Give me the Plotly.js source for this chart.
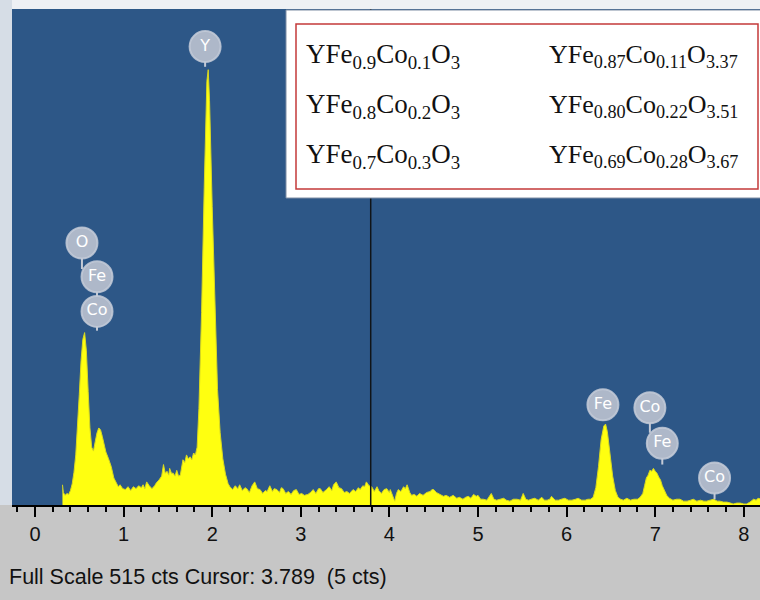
<!DOCTYPE html>
<html>
<head>
<meta charset="utf-8">
<script src="https://cdn.plot.ly/plotly-3.0.1.min.js"></script>
<style>html,body{margin:0;padding:0;background:#c6c6c6;}#chart{width:760px;height:600px;}</style>
</head>
<body>
<div id="chart"></div>
<script>
// Spectrum (energy in keV, counts)
const energy = [0.31,0.32,0.34,0.36,0.38,0.40,0.42,0.44,0.46,0.48,0.50,0.52,0.54,0.56,0.58,0.60,0.62,0.64,0.66,0.68,0.70,0.72,0.74,0.76,0.78,0.80,0.83,0.86,0.89,0.92,0.94,0.96,0.99,1.02,1.05,1.08,1.11,1.14,1.17,1.20,1.22,1.24,1.26,1.29,1.32,1.35,1.37,1.40,1.43,1.45,1.47,1.49,1.51,1.52,1.54,1.56,1.58,1.60,1.62,1.64,1.66,1.67,1.69,1.71,1.73,1.75,1.77,1.79,1.81,1.83,1.85,1.88,1.91,1.94,1.955,1.97,2.00,2.03,2.06,2.09,2.12,2.15,2.18,2.20,2.23,2.26,2.29,2.31,2.34,2.37,2.39,2.42,2.45,2.48,2.51,2.54,2.57,2.60,2.62,2.65,2.68,2.70,2.73,2.76,2.78,2.80,2.83,2.86,2.89,2.92,2.95,2.98,3.01,3.04,3.08,3.11,3.14,3.17,3.20,3.22,3.25,3.29,3.32,3.35,3.37,3.40,3.43,3.46,3.49,3.52,3.55,3.59,3.62,3.65,3.67,3.70,3.72,3.74,3.77,3.80,3.83,3.86,3.88,3.91,3.94,3.97,4.00,4.01,4.04,4.06,4.08,4.10,4.13,4.16,4.18,4.20,4.23,4.25,4.28,4.31,4.34,4.38,4.42,4.46,4.48,4.50,4.53,4.55,4.58,4.61,4.64,4.68,4.72,4.76,4.79,4.83,4.86,4.89,4.92,4.95,4.98,5.00,5.03,5.06,5.10,5.15,5.18,5.21,5.25,5.29,5.32,5.36,5.40,5.44,5.48,5.51,5.54,5.57,5.60,5.64,5.68,5.72,5.75,5.78,5.81,5.83,5.87,5.91,5.94,5.98,6.02,6.06,6.10,6.13,6.17,6.21,6.24,6.27,6.30,6.33,6.36,6.39,6.42,6.44,6.46,6.49,6.52,6.55,6.58,6.61,6.64,6.68,6.72,6.76,6.80,6.83,6.86,6.88,6.90,6.92,6.94,6.96,6.98,7.00,7.02,7.04,7.06,7.08,7.10,7.13,7.16,7.20,7.24,7.28,7.32,7.36,7.40,7.43,7.47,7.51,7.55,7.58,7.62,7.66,7.70,7.73,7.77,7.81,7.85,7.88,7.92,7.96,8.00,8.03,8.07,8.11,8.14,8.16,8.20];
const counts = [21,13,10,12,11,15,22,34,52,80,115,150,172,179,160,118,80,60,56,66,75,80,78,71,62,55,48,40,28,23,19,21,17,16,19,15,19,17,20,18,21,17,24,20,17,20,23,26,30,42,33,35,31,38,33,33,30,36,30,31,40,47,44,52,48,50,47,54,52,60,100,200,330,440,452,420,310,200,120,75,48,32,22,19,16,20,17,21,15,18,17,13,20,24,17,16,12,15,14,20,14,17,16,13,18,17,12,14,11,15,16,11,12,10,11,13,16,12,17,17,13,16,19,15,21,24,18,17,13,14,12,16,14,18,16,20,19,24,20,19,14,19,15,12,16,17,13,16,9,4,12,16,14,19,17,21,13,10,11,9,12,10,13,14,16,16,13,12,11,9,10,8,10,7,8,6,8,9,7,11,9,10,6,6,5,12,6,5,6,7,5,4,6,6,5,12,6,5,6,7,5,8,5,5,6,9,5,5,6,7,5,5,6,7,5,5,6,6,8,18,40,68,82,84,76,54,30,15,8,6,5,7,5,6,6,8,12,20,28,31,36,35,38,35,33,29,26,20,16,10,7,5,6,6,4,4,5,6,4,5,4,4,5,6,4,4,3,3,2,1,2,2,1,1,3,6,5,7,6];

// Element markers
const peakLabels = ['O','Fe','Co','Y','Fe','Co','Fe','Co'];
const labelEnergy = [0.53,0.70,0.70,1.92,6.41,6.94,7.08,7.67];
const labelCounts = [272,237,201,476,104,101,64,28];
const stemEndCounts = [245,201,181,455,88,75,42,6];

// Composition table
const nominal = ['YFe<sub>0.9</sub>Co<sub>0.1</sub>O<sub>3</sub>','YFe<sub>0.8</sub>Co<sub>0.2</sub>O<sub>3</sub>','YFe<sub>0.7</sub>Co<sub>0.3</sub>O<sub>3</sub>'];
const measured = ['YFe<sub>0.87</sub>Co<sub>0.11</sub>O<sub>3.37</sub>','YFe<sub>0.80</sub>Co<sub>0.22</sub>O<sub>3.51</sub>','YFe<sub>0.69</sub>Co<sub>0.28</sub>O<sub>3.67</sub>'];

const tickVals = [0,1,2,3,4,5,6,7,8];
const tickText = ['0','1','2','3','4','5','6','7','8'];
const fullScale = 515;
const cursorE = 3.789;
const statusText = 'Full Scale 515 cts Cursor: 3.789\u00a0 (5 cts)';

// Build
const W = 760, H = 600, mL = 12, mR = 0, mT = 9, mB = 95;
const pw = W - mL - mR, ph = H - mT - mB;
const px2paperX = p => (p - mL) / pw;
const py2paperY = p => (H - mB - p) / ph;

const stemX = [], stemY = [];
for (let i = 0; i < peakLabels.length; i++) {
  stemX.push(labelEnergy[i], labelEnergy[i], null);
  stemY.push(labelCounts[i], stemEndCounts[i], null);
}

const traces = [
  {x: energy, y: counts, type: 'scatter', mode: 'lines', fill: 'tozeroy',
   fillcolor: '#ffff10', line: {color: '#d8d820', width: 1}, hoverinfo: 'skip'},
  {x: stemX, y: stemY, type: 'scatter', mode: 'lines',
   line: {color: '#c4cad6', width: 2}, hoverinfo: 'skip'},
  {x: labelEnergy, y: labelCounts, type: 'scatter', mode: 'markers+text',
   text: peakLabels, textposition: 'middle center',
   textfont: {color: '#ffffff', size: 16, family: 'DejaVu Sans, sans-serif'},
   marker: {size: 31, color: '#aeb8c9', line: {color: 'rgba(196,203,216,0.85)', width: 2}},
   hoverinfo: 'skip'}
];

const annotations = [];
const rowsY = [60, 110, 160];
for (let i = 0; i < 3; i++) {
  annotations.push({xref: 'paper', yref: 'paper', x: px2paperX(304), y: py2paperY(rowsY[i] - 4),
    xanchor: 'left', yanchor: 'middle', showarrow: false, text: nominal[i],
    font: {family: 'Liberation Serif, Times New Roman, serif', size: 27, color: '#111'}});
  annotations.push({xref: 'paper', yref: 'paper', x: px2paperX(547), y: py2paperY(rowsY[i] - 4),
    xanchor: 'left', yanchor: 'middle', showarrow: false, text: measured[i],
    font: {family: 'Liberation Serif, Times New Roman, serif', size: 26, color: '#111'}});
}
annotations.push({xref: 'paper', yref: 'paper', x: px2paperX(7), y: py2paperY(577),
  xanchor: 'left', yanchor: 'middle', showarrow: false, text: statusText,
  font: {family: 'Liberation Sans, Arial, sans-serif', size: 21.5, color: '#111'}});

const shapes = [
  {type: 'rect', xref: 'paper', yref: 'paper', x0: px2paperX(0), x1: px2paperX(760), y0: py2paperY(9), y1: py2paperY(0),
   fillcolor: '#eef0f4', line: {width: 0}, layer: 'below'},
  {type: 'rect', xref: 'paper', yref: 'paper', x0: px2paperX(0), x1: px2paperX(12), y0: py2paperY(505), y1: py2paperY(0),
   fillcolor: '#d6dde6', line: {width: 0}, layer: 'below'},
  {type: 'line', xref: 'x', yref: 'paper', x0: cursorE, x1: cursorE, y0: 0, y1: 1,
   line: {color: '#101418', width: 1.5}},
  {type: 'rect', xref: 'paper', yref: 'paper', x0: px2paperX(286), x1: px2paperX(761), y0: py2paperY(198), y1: py2paperY(10),
   fillcolor: '#ffffff', line: {color: '#7f8ea4', width: 1}},
  {type: 'rect', xref: 'paper', yref: 'paper', x0: px2paperX(296), x1: px2paperX(758), y0: py2paperY(189), y1: py2paperY(24),
   fillcolor: 'rgba(0,0,0,0)', line: {color: '#c43a3a', width: 1.5}}
];

const layout = {
  width: W, height: H,
  margin: {l: mL, r: mR, t: mT, b: mB, pad: 0},
  paper_bgcolor: '#c6c6c6',
  plot_bgcolor: '#2d5787',
  showlegend: false,
  xaxis: {
    range: [(mL - 35) / 88.6, (W - 35) / 88.6],
    tickvals: tickVals, ticktext: tickText,
    ticks: 'outside', ticklen: 10, tickwidth: 2, tickcolor: '#000',
    minor: {dtick: 0.2, tick0: 0, ticks: 'outside', ticklen: 5, tickwidth: 2, tickcolor: '#000', showgrid: false},
    showline: true, linecolor: '#000', linewidth: 2,
    showgrid: false, zeroline: false,
    tickfont: {family: 'Liberation Sans, Arial, sans-serif', size: 20, color: '#111'},
    ticklabelstandoff: 0
  },
  yaxis: {range: [0, fullScale], showticklabels: false, showgrid: false, zeroline: false, ticks: '', showline: false},
  shapes: shapes,
  annotations: annotations
};

Plotly.newPlot('chart', traces, layout, {staticPlot: true});
</script>
</body>
</html>
